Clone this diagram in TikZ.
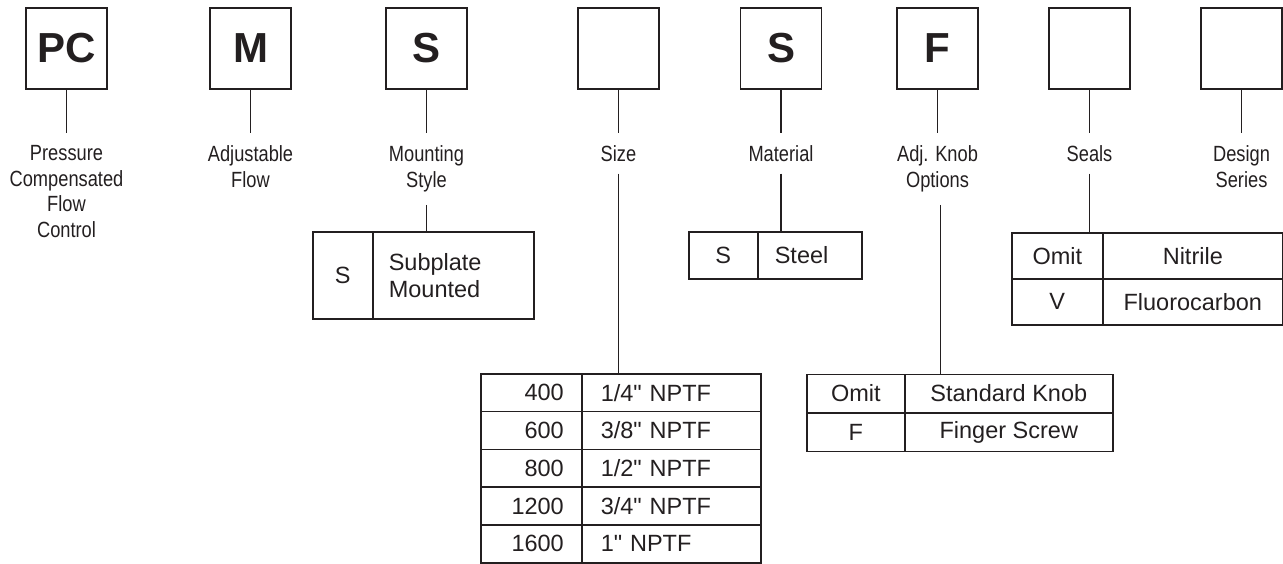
\documentclass[tikz,border=0pt]{standalone}
\usepackage{fontspec}
\setmainfont{Liberation Sans}[Ligatures=TeXOff]
\newfontfamily\condfont[FakeStretch=0.83]{Liberation Sans}
\definecolor{ink}{RGB}{35,31,32}
\begin{document}
\begin{tikzpicture}[x=1pt,y=-1pt,
  codebox/.style={draw=ink, line width=1.8pt, minimum width=81pt, minimum height=81pt, inner sep=0pt,
    font=\fontsize{42}{42}\selectfont\bfseries, text=ink},
  lbl/.style={anchor=north, inner sep=0pt, align=center, text=ink,
    font=\condfont\fontsize{22}{25.5}\selectfont},
  cell/.style={draw=ink, line width=1.6pt, inner sep=0pt, anchor=north west, text=ink,
    font=\fontsize{23.5}{27}\selectfont},
  stub/.style={draw=ink, line width=1.5pt},
  lefttext/.style={align=left, inner xsep=#1},
  righttext/.style={align=right, inner xsep=#1}
]
\useasboundingbox (0,0) rectangle (1283,563);

% code boxes
\node[codebox] (cPC) at (66.5,48.5) {PC};
\node[codebox] (cM)  at (250.5,48.5) {M};
\node[codebox] (cS)  at (426.5,48.5) {S};
\node[codebox] (cSz) at (618.5,48.5) {};
\node[codebox] (cMa) at (781,48.5) {S};
\node[codebox] (cF)  at (937.5,48.5) {F};
\node[codebox] (cSe) at (1089.5,48.5) {};
\node[codebox] (cD)  at (1241.5,48.5) {};

% labels
\node[lbl] (lPC) at (66.5,145.5) {Pressure\\Compensated\\Flow\\Control};
\node[lbl] (lM)  at (250.5,145.5) {Adjustable\\Flow};
\node[lbl] (lS)  at (426.5,145.5) {Mounting\\Style};
\node[lbl] (lSz) at (618.5,145.5) {Size};
\node[lbl] (lMa) at (781,145.5) {Material};
\node[lbl] (lF)  at (937.5,145.5) {Adj. Knob\\Options};
\node[lbl] (lSe) at (1089.5,145.5) {Seals};
\node[lbl] (lD)  at (1241.5,145.5) {Design\\Series};

% upper stubs
\foreach \b/\l in {cPC/lPC,cM/lM,cS/lS,cSz/lSz,cMa/lMa,cF/lF,cSe/lSe,cD/lD}
  \draw[stub] (\b.south) -- ([yshift=12.5pt]\l.north);

% Mounting style table
\node[cell, minimum width=60pt, minimum height=87pt] (mL) at (312,231) {S};
\node[cell, minimum height=87pt, text width=129pt, lefttext=16pt] (mR) at (372,231) {Subplate\\Mounted};

% Material table
\node[cell, minimum width=69pt, minimum height=47pt] (maL) at (688,231) {S};
\node[cell, minimum height=47pt, text width=70pt, lefttext=17pt] (maR) at (757,231) {Steel};

% Size table
\foreach \i/\n/\t in {0/400/{1/4" NPTF},1/600/{3/8" NPTF},2/800/{1/2" NPTF},3/1200/{3/4" NPTF},4/1600/{1" NPTF}}{
  \node[cell, minimum height=37.8pt, text width=65pt, righttext=18pt] (sL\i) at (480,373+37.8*\i) {\n};
  \node[cell, minimum height=37.8pt, text width=141pt, lefttext=19pt] (sR\i) at (581,373+37.8*\i) {\t};
}

% Knob table
\node[cell, minimum width=98pt, minimum height=38.5pt] (kL0) at (806,373.5) {Omit};
\node[cell, minimum width=208pt, minimum height=38.5pt] (kR0) at (904,373.5) {Standard Knob};
\node[cell, minimum width=98pt, minimum height=38.5pt] (kL1) at (806,412) {F};
\node[cell, minimum width=208pt, minimum height=38.5pt] (kR1) at (904,412) {Finger Screw};

% Seals table
\node[cell, minimum width=91pt, minimum height=46pt] (seL0) at (1011,232) {Omit};
\node[cell, minimum width=180pt, minimum height=46pt] (seR0) at (1102,232) {Nitrile};
\node[cell, minimum width=91pt, minimum height=46pt] (seL1) at (1011,278) {V};
\node[cell, minimum width=180pt, minimum height=46pt] (seR1) at (1102,278) {Fluorocarbon};

% lower stubs
\draw[stub] ([yshift=-13pt]lS.south) -- (lS.south |- mR.north);
\draw[stub] ([yshift=-11.5pt]lSz.south) -- (lSz.south |- sR0.north);
\draw[stub] ([yshift=-11.5pt]lMa.south) -- (lMa.south |- maR.north);
\draw[stub] ([xshift=3pt,yshift=-13pt]lF.south) -- ([xshift=3pt]lF.south |- kR0.north);
\draw[stub] ([yshift=-11.5pt]lSe.south) -- (lSe.south |- seL0.north);
\end{tikzpicture}
\end{document}
